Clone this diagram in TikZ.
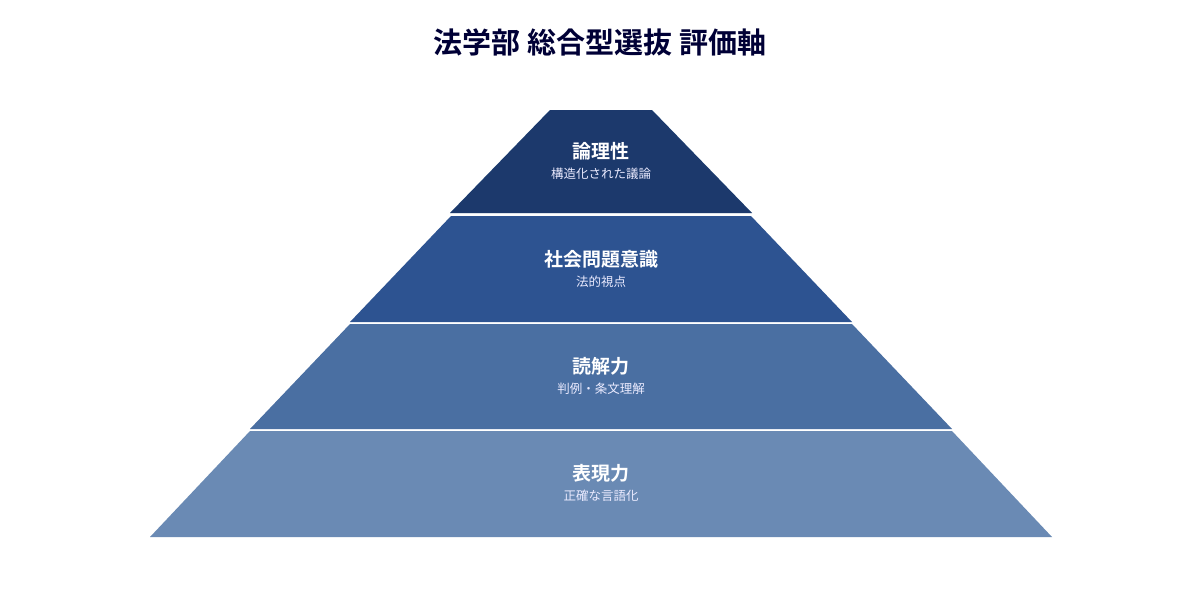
\documentclass[tikz,border=0pt]{standalone}
\usepackage{fontspec}
\setmainfont{Noto Sans CJK JP}
\newfontfamily\jpb{Noto Sans CJK JP Bold}
\begin{document}
\begin{tikzpicture}[x=1pt,y=-1pt,
  lay/.style={draw=none},
  hd/.style={font=\jpb\fontsize{19}{22}\selectfont,text=white,inner sep=0},
  sb/.style={font=\fontsize{12.5}{15}\selectfont,text=white!92!blue,inner sep=0}]
\useasboundingbox (0,0) rectangle (1200,600);
\fill[white] (0,0) rectangle (1200,600);
\node[font=\jpb\fontsize{29}{34}\selectfont,text=black!30!blue!30!black] (title) at (600,42) {法学部 総合型選抜 評価軸};
\fill[lay,fill=black!52!blue!45!cyan!20] (550,110) -- (652,110) -- (752,213) -- (450,213) -- cycle;
\fill[lay,fill={rgb,255:red,28;green,57;blue,108}] (550,110) -- (652,110) -- (752,213) -- (450,213) -- cycle;
\fill[lay,fill={rgb,255:red,45;green,83;blue,145}] (451,216) -- (751,216) -- (852,322) -- (350,322) -- cycle;
\fill[lay,fill={rgb,255:red,74;green,111;blue,162}] (350,324) -- (852,324) -- (952,429) -- (250,429) -- cycle;
\fill[lay,fill={rgb,255:red,106;green,138;blue,180}] (250,431) -- (952,431) -- (1052,537) -- (150,537) -- cycle;
\node[hd] (h1) at (601,151) {論理性};
\node[sb] (s1) at (601,174) {構造化された議論};
\node[hd] (h2) at (601,259) {社会問題意識};
\node[sb] (s2) at (601,282) {法的視点};
\node[hd] (h3) at (601,366) {読解力};
\node[sb] (s3) at (601,389) {判例・条文理解};
\node[hd] (h4) at (601,473) {表現力};
\node[sb] (s4) at (601,496) {正確な言語化};
\end{tikzpicture}
\end{document}
